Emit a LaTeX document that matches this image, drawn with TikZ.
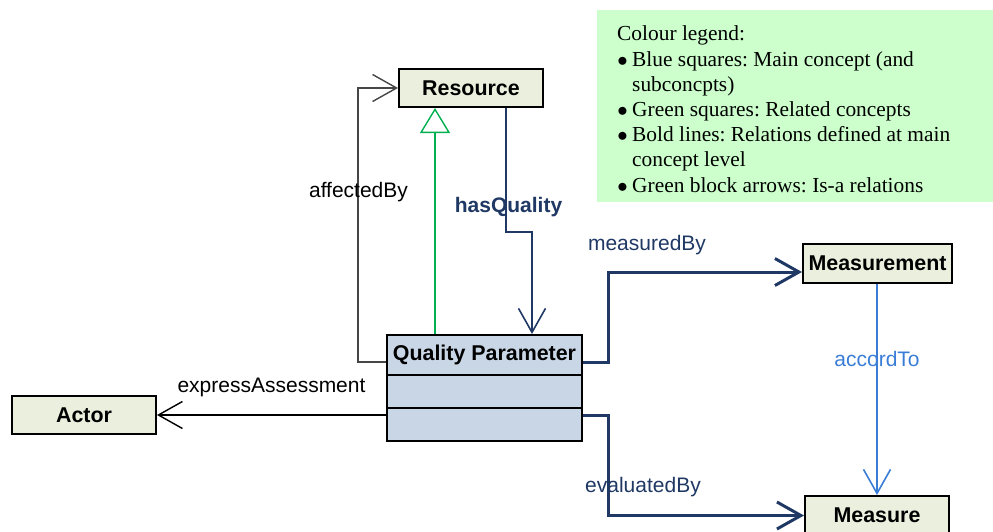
\documentclass[tikz,border=0pt]{standalone}
\usepackage{fontspec}
\setmainfont{Liberation Serif}
\setsansfont{Liberation Sans}
\usetikzlibrary{arrows.meta,calc}
\definecolor{beige}{RGB}{235,240,222}
\definecolor{qpblue}{RGB}{200,214,230}
\definecolor{navy}{RGB}{31,56,100}
\definecolor{lblue}{RGB}{58,125,215}
\definecolor{isagreen}{RGB}{0,176,80}
\definecolor{leggreen}{RGB}{204,255,204}
\definecolor{dgray}{RGB}{70,70,70}
\tikzset{
  concept/.style={draw=black, line width=2pt, fill=beige, inner sep=0pt,
    font=\sffamily\bfseries\fontsize{21.4}{25}\selectfont},
  mainconcept/.style={draw=black, line width=2pt, fill=qpblue, inner sep=0pt,
    minimum width=195pt, font=\sffamily\bfseries\fontsize{21.4}{25}\selectfont},
  lbl/.style={font=\sffamily\fontsize{21}{25}\selectfont, anchor=base, inner sep=0pt},
  barb/.style={-{Straight Barb[length=24pt,width=27pt]}},
  thinrel/.style={line width=1.4pt, barb},
  boldrel/.style={draw=navy, line width=3pt, barb},
  isarel/.style={draw=isagreen, line width=1.4pt, -{Triangle[open,length=25pt,width=30pt,fill=white]}},
  legtext/.style={font=\rmfamily\frenchspacing\fontsize{21.4}{25}\selectfont, anchor=base west, inner sep=0pt},
  legbullet/.style={font=\fontsize{21.4}{25}\selectfont, anchor=base, inner sep=0pt},
}
\begin{document}
\begin{tikzpicture}[x=1pt,y=-1pt]
\useasboundingbox (0,0) rectangle (993,531);
\clip (0,0) rectangle (993,531);

% legend
\node[fill=leggreen, minimum width=396pt, minimum height=192pt, anchor=north west, inner sep=0pt] (legend) at (597,10) {};
\node[legtext] (leg0) at (617,40) {Colour legend:};
\node[legbullet] (b1) at (622.5,66) {$\bullet$};
\node[legtext] (leg1) at (632,66) {Blue squares: Main concept (and};
\node[legtext] (leg1b) at (632,91) {subconcpts)};
\node[legbullet] (b2) at (622.5,116) {$\bullet$};
\node[legtext] (leg2) at (632,116) {Green squares: Related concepts};
\node[legbullet] (b3) at (622.5,141) {$\bullet$};
\node[legtext] (leg3) at (632,141) {Bold lines: Relations defined at main};
\node[legtext] (leg3b) at (632,166) {concept level};
\node[legbullet] (b4) at (622.5,192) {$\bullet$};
\node[legtext] (leg4) at (632,192) {Green block arrows: Is-a relations};

% concepts
\node[concept, minimum width=144pt, minimum height=38pt] (res) at (471,88) {Resource};
\node[concept, minimum width=149pt, minimum height=39pt] (meas) at (877.5,263.5) {Measurement};
\node[concept, minimum width=144pt, minimum height=39pt] (measure) at (877,515.5) {Measure};
\node[concept, minimum width=144pt, minimum height=38pt] (actor) at (84,415) {Actor};

% main concept
\node[mainconcept, minimum height=40pt] (qp1) at (484.5,355) {Quality Parameter};
\node[mainconcept, minimum height=33pt] (qp2) at (484.5,391.5) {};
\node[mainconcept, minimum height=33pt] (qp3) at (484.5,424.5) {};

% connectors
\coordinate (afx) at ($(res.west)+(-40,0)$);
\draw[thinrel, draw=dgray] ($(qp1.west)+(0,7)$) -| (afx) -- (res.west);
\draw[isarel] ($(qp1.north west)+(49,0)$) -- ($(res.south west)+(37,0)$);
\coordinate (hq1) at ($(res.south west)+(108,0)$);
\coordinate (hq2) at ($(qp1.north west)+(146,-102)$);
\coordinate (hq3) at ($(qp1.north west)+(146,0)$);
\draw[thinrel, draw=navy, line width=1.6pt] (hq1) |- (hq2) -- (hq3);
\coordinate (mbx) at ($(meas.west)+(-194,8.5)$);
\coordinate (mbend) at ($(meas.west)+(0,8.5)$);
\draw[boldrel] ($(qp1.east)+(0,7)$) -| (mbx) -- (mbend);
\coordinate (ebx) at ($(measure.west)+(-196,0)$);
\draw[boldrel] ($(qp3.east)+(0,-9)$) -| (ebx) -- (measure.west);
\draw[thinrel, draw=lblue, line width=1.6pt] (measure.north |- meas.south) -- (measure.north);
\draw[thinrel, draw=black] (qp3.west |- actor.east) -- (actor.east);

% labels
\node[lbl] (l1) at (358.5,197) {affectedBy};
\node[lbl, text=navy, font=\sffamily\bfseries\fontsize{21}{25}\selectfont] (l2) at (508.5,212) {hasQuality};
\node[lbl] (l3) at (271.5,392) {expressAssessment};
\node[lbl, text=navy] (l4) at (647,250) {measuredBy};
\node[lbl, text=navy] (l5) at (643,492) {evaluatedBy};
\node[lbl, text=lblue] (l6) at (877,366) {accordTo};
\end{tikzpicture}
\end{document}
